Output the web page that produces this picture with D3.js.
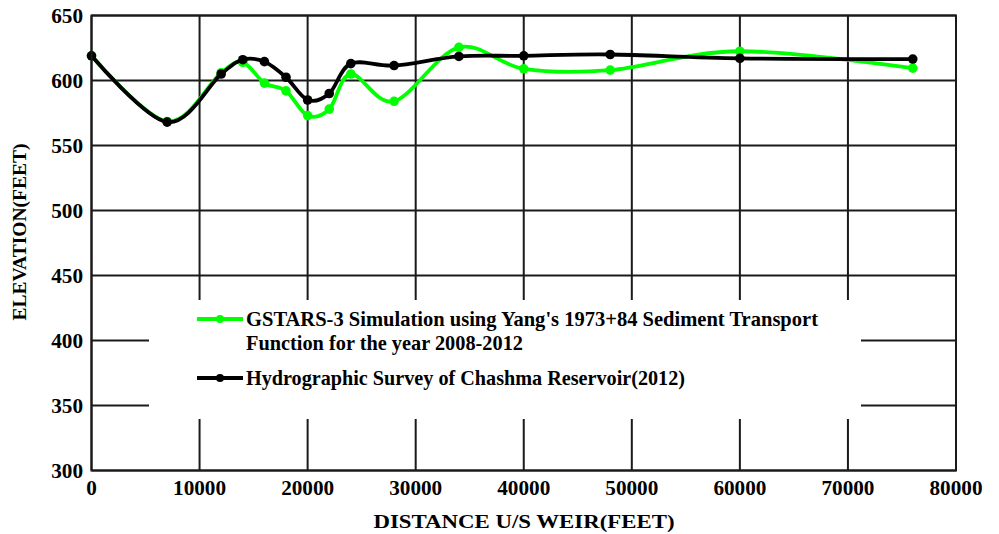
<!DOCTYPE html>
<html>
<head>
<meta charset="utf-8">
<script src="https://cdn.jsdelivr.net/npm/d3@7"></script>
<style>
  html, body { margin: 0; padding: 0; background: #fff; }
  svg { display: block; }
  text { font-family: "Liberation Serif", "Times New Roman", serif; font-weight: bold; fill: #000; }
</style>
</head>
<body>
<svg id="chart" width="999" height="534"></svg>
<script>
// Distance upstream of the weir (feet) for each surveyed cross-section
const distance = [0, 7000, 12000, 14000, 16000, 18000, 20000, 22000, 24000, 28000, 34000, 40000, 48000, 60000, 76000];

// Bed elevation (feet) simulated by GSTARS-3 with Yang's 1973+84 transport function
const simulated = [619, 568.5, 606, 614, 598, 592, 573, 578, 605, 584, 625.5, 609, 608, 622.5, 609.5];

// Bed elevation (feet) from the 2012 hydrographic survey
const surveyed = [619, 568, 605, 616, 614.5, 602.5, 585, 590, 613, 611.5, 618.5, 619, 620, 617, 616.5];

const xTicks = [0, 10000, 20000, 30000, 40000, 50000, 60000, 70000, 80000];
const yTicks = [300, 350, 400, 450, 500, 550, 600, 650];

const seriesNames = [
  ["GSTARS-3 Simulation using Yang's 1973+84 Sediment Transport", "Function for the year 2008-2012"],
  ["Hydrographic Survey of Chashma Reservoir(2012)"]
];
const seriesColors = ["#00ff00", "#000000"];

const svg = d3.select("#chart");
const plot = { left: 91.5, right: 956, top: 15.5, bottom: 470.5 };

const x = d3.scaleLinear().domain([0, 80000]).range([plot.left, plot.right]);
const y = d3.scaleLinear().domain([300, 650]).range([plot.bottom, plot.top]);

// Wide bold type: text is stretched horizontally to a set advance per glyph
const digitWidth = 10.6;
function stretch(sel, width) {
  sel.attr("textLength", width).attr("lengthAdjust", "spacingAndGlyphs");
}

// Grid lines
const grid = svg.append("g").attr("stroke", "#1a1a1a").attr("stroke-width", 2);
grid.selectAll("line.v").data(xTicks).join("line")
  .attr("x1", d => x(d)).attr("x2", d => x(d))
  .attr("y1", plot.top).attr("y2", plot.bottom);
grid.selectAll("line.h").data(yTicks).join("line")
  .attr("x1", plot.left).attr("x2", plot.right)
  .attr("y1", d => y(d)).attr("y2", d => y(d));

// Axis tick labels
svg.append("g").selectAll("text").data(yTicks).join("text")
  .attr("x", 83).attr("y", d => y(d)).attr("dy", "0.35em")
  .attr("text-anchor", "end").attr("font-size", 21)
  .each(function (d) { stretch(d3.select(this), String(d).length * digitWidth); })
  .text(d => d);
svg.append("g").selectAll("text").data(xTicks).join("text")
  .attr("x", d => x(d)).attr("y", 494.5)
  .attr("text-anchor", "middle").attr("font-size", 21)
  .each(function (d) { stretch(d3.select(this), String(d).length * digitWidth); })
  .text(d => d);

// Axis titles
svg.append("text").attr("x", 524).attr("y", 528)
  .attr("text-anchor", "middle").attr("font-size", 19.5)
  .call(stretch, 301)
  .text("DISTANCE U/S WEIR(FEET)");
svg.append("text").attr("transform", "translate(26,232) rotate(-90)")
  .attr("text-anchor", "middle").attr("font-size", 19.5)
  .text("ELEVATION(FEET)");

// Legend panel masks the grid behind it
svg.append("rect").attr("x", 149).attr("y", 300).attr("width", 712).attr("height", 119).attr("fill", "#fff");

// Data series (smoothed)
const line = d3.line().x(d => x(d[0])).y(d => y(d[1])).curve(d3.curveCatmullRom.alpha(0));
[simulated, surveyed].forEach((vals, i) => {
  const pts = distance.map((d, j) => [d, vals[j]]);
  const g = svg.append("g");
  g.append("path").datum(pts).attr("d", line)
    .attr("fill", "none").attr("stroke", seriesColors[i]).attr("stroke-width", 3.8);
  g.selectAll("circle").data(pts).join("circle")
    .attr("cx", d => x(d[0])).attr("cy", d => y(d[1])).attr("r", 4.8)
    .attr("fill", seriesColors[i]);
});

// Legend entries
const legendY = [319, 378];
const baseY = [[325.5, 349.5], [385]];
const legendWidths = [[572, 277], [439]];
seriesNames.forEach((lines, i) => {
  const g = svg.append("g");
  g.append("line").attr("x1", 197).attr("x2", 243).attr("y1", legendY[i]).attr("y2", legendY[i])
    .attr("stroke", seriesColors[i]).attr("stroke-width", 3.8);
  g.append("circle").attr("cx", 220).attr("cy", legendY[i]).attr("r", 4).attr("fill", seriesColors[i]);
  lines.forEach((t, k) => {
    g.append("text").attr("x", 246).attr("y", baseY[i][k]).attr("font-size", 21)
      .call(stretch, legendWidths[i][k])
      .text(t);
  });
});

// Plot border
svg.append("rect").attr("x", plot.left).attr("y", plot.top)
  .attr("width", plot.right - plot.left).attr("height", plot.bottom - plot.top)
  .attr("fill", "none").attr("stroke", "#1a1a1a").attr("stroke-width", 2);
</script>
</body>
</html>
